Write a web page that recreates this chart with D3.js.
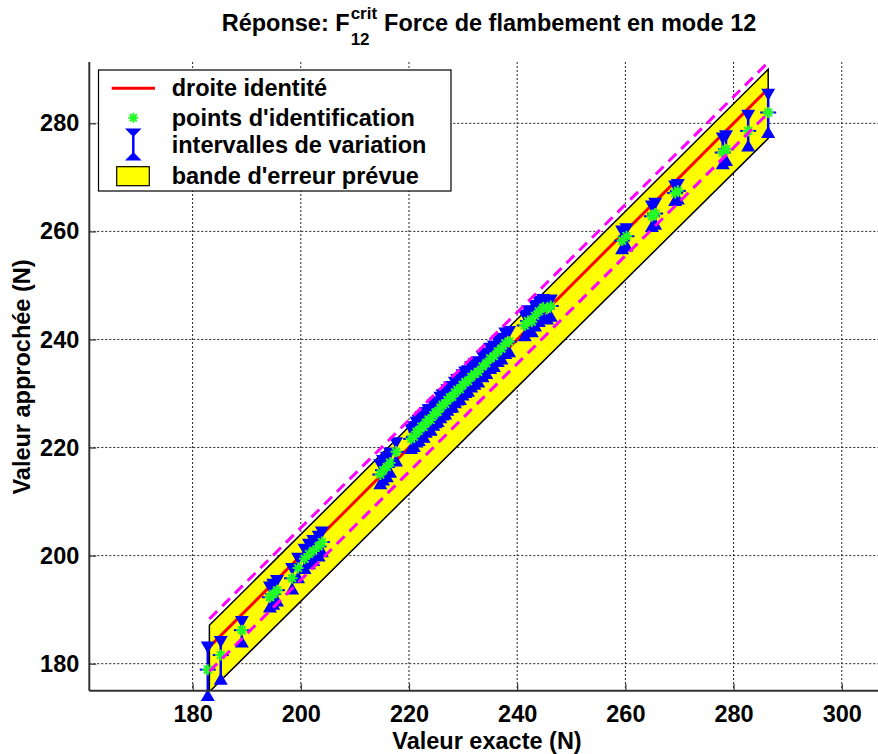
<!DOCTYPE html>
<html><head><meta charset="utf-8">
<script src="https://cdn.jsdelivr.net/npm/d3@7"></script>
<style>
html,body{margin:0;padding:0;background:#fff;}
text{font-family:"Liberation Sans",Arial,Helvetica,sans-serif;font-weight:bold;fill:#000;}
</style></head>
<body>
<svg id="chart" width="878" height="754"></svg>
<script>
// ---- data ----
const exactVals = [182.8,185.2,189.1,194.3,194.9,195.6,198.4,199.5,200.7,201.5,202.3,203.3,203.9,
 214.7,215.2,215.9,216.5,217.6,
 220.4,220.9,221.4,221.8,222.3,222.7,223.1,223.6,224.0,224.5,224.9,225.3,225.8,226.2,226.7,227.1,227.6,228.0,228.5,228.9,229.4,229.9,230.4,230.9,231.5,232.1,232.8,233.6,234.3,235.0,235.7,236.4,237.1,237.8,238.5,
 241.4,242.0,242.7,243.3,244.0,244.8,245.5,246.2,
 259.4,260.2,264.9,265.5,269.2,269.7,278.0,278.6,282.7,286.4];
const approxVals = [178.9,181.6,186.2,192.3,192.9,193.6,195.8,197.7,199.4,200.3,200.9,201.7,202.5,
 215.0,215.8,216.4,217.2,219.2,
 221.6,222.0,222.9,223.1,223.9,223.8,224.6,225.2,225.1,226.0,226.5,226.6,227.4,227.9,228.1,228.8,229.3,229.4,230.2,230.7,230.8,231.6,232.1,232.3,233.1,233.6,234.0,235.0,235.6,236.5,236.9,237.8,238.3,239.3,239.6,
 242.6,243.4,243.3,244.4,245.2,245.9,245.7,246.2,
 258.3,259.1,262.8,263.3,267.1,267.5,274.6,275.2,278.6,282.0];
const lowerVals = [174.2,177.2,184.1,190.6,191.1,191.7,193.9,196.0,197.7,198.6,199.2,200.0,200.8,
 213.4,214.1,214.7,215.5,217.6,
 219.9,220.3,221.1,221.4,222.1,222.0,222.9,223.4,223.3,224.2,224.7,224.9,225.6,226.1,226.3,227.0,227.5,227.6,228.4,228.9,229.0,229.8,230.3,230.5,231.3,231.8,232.2,233.2,233.8,234.7,235.1,236.0,236.5,237.5,237.8,
 240.8,241.6,241.5,242.6,243.4,244.1,243.9,244.4,
 256.9,257.4,261.0,261.4,265.8,266.1,272.6,273.2,275.9,278.4];
const upperVals = [183.0,184.0,187.7,194.1,194.6,195.3,197.5,199.4,201.1,202.0,202.7,203.5,204.3,
 216.7,217.5,218.1,218.9,220.8,
 223.3,223.8,224.6,224.9,225.6,225.5,226.4,226.9,226.9,227.8,228.2,228.4,229.2,229.7,229.9,230.6,231.1,231.2,232.0,232.5,232.6,233.4,233.9,234.1,234.9,235.4,235.8,236.8,237.4,238.3,238.7,239.6,240.1,241.1,241.4,
 244.4,245.2,245.1,246.2,247.0,247.3,247.0,247.2,
 260.0,260.4,264.6,265.1,268.3,268.6,277.2,277.6,281.4,285.3];
const bandX = [183.1, 286.4];
const bandUpper = [187.1, 290.0];
const bandLower = [174.8, 277.2];
const dashUpper = [188.3, 291.3];
const dashLower = [178.6, 281.9];
const xTicks = [180,200,220,240,260,280,300];
const yTicks = [180,200,220,240,260,280];
const legendLabels = ["droite identité","points d'identification","intervalles de variation","bande d'erreur prévue"];

// ---- layout ----
const svg = d3.select("#chart");
const L = 89.3, B = 690.7, T = 62, R = 878;
const FS = 23.5;
const x = d3.scaleLinear().domain([160.9, 306.7]).range([L, R]);
const y = d3.scaleLinear().domain([175, 291.35]).range([B, T]);

svg.append("rect").attr("width",878).attr("height",754).attr("fill","#fff");
svg.append("defs").append("clipPath").attr("id","clip")
  .append("rect").attr("x",L).attr("y",T).attr("width",R-L).attr("height",B-T);

// grid
const grid = svg.append("g").attr("stroke","#222").attr("stroke-width",1).attr("stroke-dasharray","2,2");
xTicks.forEach(v=>grid.append("line").attr("x1",x(v)).attr("x2",x(v)).attr("y1",T).attr("y2",B));
yTicks.forEach(v=>grid.append("line").attr("x1",L).attr("x2",R).attr("y1",y(v)).attr("y2",y(v)));

const plot = svg.append("g").attr("clip-path","url(#clip)");
// band
const bandPts = [[bandX[0],bandUpper[0]],[bandX[1],bandUpper[1]],[bandX[1],bandLower[1]],[bandX[0],bandLower[0]]];
plot.append("path").attr("d", d3.line().x(d=>x(d[0])).y(d=>y(d[1]))(bandPts)+"Z")
  .attr("fill","#ffff00").attr("stroke","#000").attr("stroke-width",1.5);
// identity line
plot.append("line").attr("x1",x(bandX[0])).attr("y1",y(bandX[0])).attr("x2",x(bandX[1])).attr("y2",y(bandX[1]))
  .attr("stroke","#ff0000").attr("stroke-width",3);

// points
const pts = exactVals.map((v,i)=>({x:v,y:approxVals[i],lo:lowerVals[i],hi:upperVals[i]}));
const gp = svg.append("g");
const tw = 14, th = 12;
pts.forEach(p=>{
  const cx = x(p.x), yh = y(p.hi), yl = y(p.lo);
  gp.append("line").attr("x1",cx).attr("x2",cx).attr("y1",yh).attr("y2",yl).attr("stroke","#0000ff").attr("stroke-width",2.5);
  gp.append("path").attr("d",`M${cx-tw/2},${yh-th/2}L${cx+tw/2},${yh-th/2}L${cx},${yh+th/2}Z`).attr("fill","#0000ff");
  gp.append("path").attr("d",`M${cx-tw/2},${yl+th/2}L${cx+tw/2},${yl+th/2}L${cx},${yl-th/2}Z`).attr("fill","#0000ff");
});
pts.forEach(p=>{
  const cx = x(p.x), cy = y(p.y);
  gp.append("line").attr("x1",cx-8).attr("x2",cx+8).attr("y1",cy).attr("y2",cy).attr("stroke","#0000ff").attr("stroke-width",2);
});
function star(g,cx,cy,r,w){
  const d = r*0.7;
  g.append("path").attr("d",`M${cx-r},${cy}L${cx+r},${cy}M${cx},${cy-r}L${cx},${cy+r}M${cx-d},${cy-d}L${cx+d},${cy+d}M${cx-d},${cy+d}L${cx+d},${cy-d}`)
    .attr("stroke","#22ff22").attr("stroke-width",w).attr("fill","none");
}
pts.forEach(p=>star(gp,x(p.x),y(p.y),5.5,2));

// dashed magenta lines
const dl = svg.append("g").attr("clip-path","url(#clip)");
[dashUpper,dashLower].forEach(arr=>{
  dl.append("line").attr("x1",x(bandX[0])).attr("y1",y(arr[0])).attr("x2",x(bandX[1])).attr("y2",y(arr[1]))
    .attr("stroke","#ff00ff").attr("stroke-width",3).attr("stroke-dasharray","11,7");
});

// axes
const xAxis = svg.append("g").attr("transform",`translate(0,${B})`)
  .call(d3.axisBottom(x).tickValues(xTicks).tickSize(-7).tickPadding(15).tickFormat(d3.format("d")));
const yAxis = svg.append("g").attr("transform",`translate(${L},0)`)
  .call(d3.axisLeft(y).tickValues(yTicks).tickSize(-7).tickPadding(10).tickFormat(d3.format("d")));
[xAxis,yAxis].forEach(a=>{
  a.select(".domain").remove();
  a.selectAll(".tick line").attr("stroke","#333").attr("stroke-width",1.2);
  a.selectAll(".tick text").attr("font-size",FS).attr("font-family","Liberation Sans, Arial, sans-serif").attr("font-weight","bold").attr("fill","#000");
});
svg.append("line").attr("x1",L).attr("x2",R).attr("y1",B).attr("y2",B).attr("stroke","#333").attr("stroke-width",2);
svg.append("line").attr("x1",L).attr("x2",L).attr("y1",T).attr("y2",B).attr("stroke","#333").attr("stroke-width",2);

// axis labels
svg.append("text").attr("x",487).attr("y",749).attr("text-anchor","middle").attr("font-size",FS).text("Valeur exacte (N)");
svg.append("text").attr("transform","translate(30,377) rotate(-90)").attr("text-anchor","middle").attr("font-size",FS).text("Valeur approchée (N)");

// title
const tg = svg.append("g");
const fsS = 17;
const t1 = tg.append("text").attr("x",0).attr("y",0).attr("font-size",FS).text("Réponse: F");
const w1 = t1.node().getComputedTextLength();
const tsup = tg.append("text").attr("x",w1+1).attr("y",-12).attr("font-size",fsS).text("crit");
const tsub = tg.append("text").attr("x",w1+1).attr("y",14).attr("font-size",fsS).text("12");
const ws = Math.max(tsup.node().getComputedTextLength(), tsub.node().getComputedTextLength());
const t2 = tg.append("text").attr("x",w1+ws+8).attr("y",0).attr("font-size",FS).text("Force de flambement en mode 12");
const total = w1+ws+8+t2.node().getComputedTextLength();
tg.attr("transform",`translate(${489-total/2},31)`);

// legend
const lg = svg.append("g");
lg.append("rect").attr("x",98.5).attr("y",70).attr("width",352.5).attr("height",121).attr("fill","#fff").attr("stroke","#000").attr("stroke-width",1.2);
const rowY = [88.3,117.7,145,175.5];
lg.append("line").attr("x1",111.7).attr("x2",155).attr("y1",rowY[0]).attr("y2",rowY[0]).attr("stroke","#ff0000").attr("stroke-width",3);
star(lg,133.3,rowY[1],5,2);
lg.append("line").attr("x1",133.3).attr("x2",133.3).attr("y1",130).attr("y2",158).attr("stroke","#0000ff").attr("stroke-width",2.5);
lg.append("path").attr("d","M125,128.5L141.6,128.5L133.3,137Z").attr("fill","#0000ff");
lg.append("path").attr("d","M125,160.5L141.6,160.5L133.3,152Z").attr("fill","#0000ff");
lg.append("rect").attr("x",116.7).attr("y",166.7).attr("width",32.6).attr("height",19).attr("fill","#ffff00").attr("stroke","#000").attr("stroke-width",1.2);
legendLabels.forEach((s,i)=>{
  lg.append("text").attr("x",171.7).attr("y",rowY[i]+8).attr("font-size",FS).text(s);
});
</script>
</body></html>
